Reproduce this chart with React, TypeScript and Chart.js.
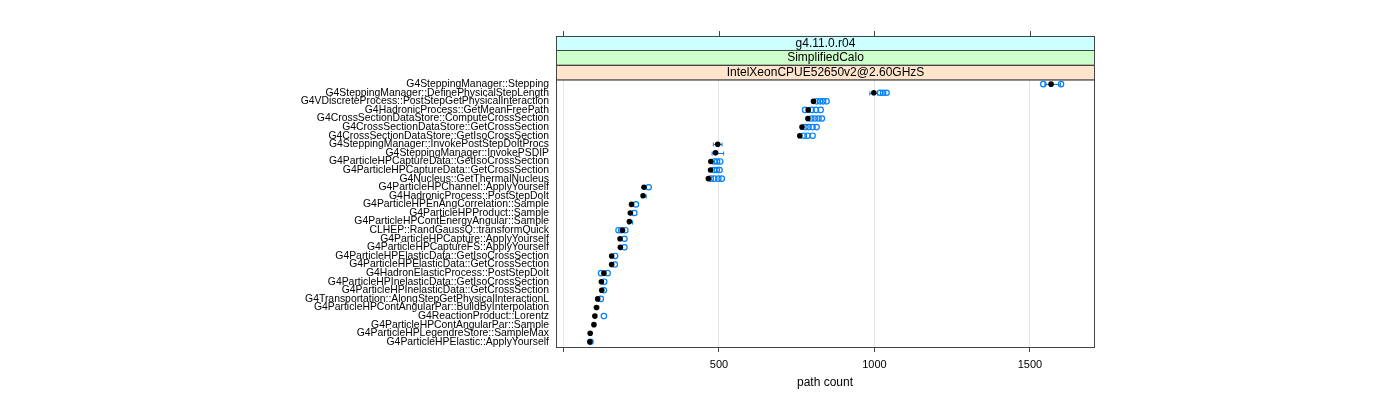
import React, { useEffect, useRef } from 'react';
import { Chart, registerables } from 'chart.js';

Chart.register(...registerables);

const categories = [
  'G4SteppingManager::Stepping',
  'G4SteppingManager::DefinePhysicalStepLength',
  'G4VDiscreteProcess::PostStepGetPhysicalInteraction',
  'G4HadronicProcess::GetMeanFreePath',
  'G4CrossSectionDataStore::ComputeCrossSection',
  'G4CrossSectionDataStore::GetCrossSection',
  'G4CrossSectionDataStore::GetIsoCrossSection',
  'G4SteppingManager::InvokePostStepDoItProcs',
  'G4SteppingManager::InvokePSDIP',
  'G4ParticleHPCaptureData::GetIsoCrossSection',
  'G4ParticleHPCaptureData::GetCrossSection',
  'G4Nucleus::GetThermalNucleus',
  'G4ParticleHPChannel::ApplyYourself',
  'G4HadronicProcess::PostStepDoIt',
  'G4ParticleHPEnAngCorrelation::Sample',
  'G4ParticleHPProduct::Sample',
  'G4ParticleHPContEnergyAngular::Sample',
  'CLHEP::RandGaussQ::transformQuick',
  'G4ParticleHPCapture::ApplyYourself',
  'G4ParticleHPCaptureFS::ApplyYourself',
  'G4ParticleHPElasticData::GetIsoCrossSection',
  'G4ParticleHPElasticData::GetCrossSection',
  'G4HadronElasticProcess::PostStepDoIt',
  'G4ParticleHPInelasticData::GetIsoCrossSection',
  'G4ParticleHPInelasticData::GetCrossSection',
  'G4Transportation::AlongStepGetPhysicalInteractionL',
  'G4ParticleHPContAngularPar::BuildByInterpolation',
  'G4ReactionProduct::Lorentz',
  'G4ParticleHPContAngularPar::Sample',
  'G4ParticleHPLegendreStore::SampleMax',
  'G4ParticleHPElastic::ApplyYourself',
];

// reference run (black filled dots)
const refValues = [
  1568, 998, 804, 787, 786, 767, 760, 496, 489, 474, 473, 466, 259, 256, 219, 215,
  212, 190, 182, 183, 155, 155, 130, 122, 123, 110, 106, 101, 98, 86, 85,
];

// other runs (blue open circles), per category
const runValues: number[][] = [
  [1543, 1600],
  [1018, 1028, 1039],
  [814, 825, 835, 846],
  [777, 798, 812, 827],
  [797, 808, 820, 831],
  [778, 788, 801, 814],
  [773, 785, 801],
  [],
  [],
  [485, 494, 504],
  [484, 493, 502],
  [474, 485, 498, 509],
  [274],
  [],
  [233],
  [228],
  [],
  [177, 186, 199],
  [196],
  [196],
  [166],
  [165],
  [121, 142],
  [131],
  [130],
  [120],
  [],
  [130],
  [],
  [],
  [87],
];

// spread bars (blue), null where none is visible
const errLow: (number | null)[] = [
  1548, 985, 798, 784, 783, 763, 756, 482, 478, null, null, null, null, 252, null, null,
  208, null, null, null, null, null, null, null, null, null, 103, null, null, null, null,
];
const errHigh: (number | null)[] = [
  1598, 1010, 810, 792, 790, 772, 765, 510, 515, null, null, null, null, 266, null, null,
  222, null, null, null, null, null, null, null, null, null, 114, null, null, null, null,
];

const xTicks = [0, 500, 1000, 1500];
const xTickLabels = ['', '500', '1000', '1500'];
const stripLabels = ['g4.11.0.r04', 'SimplifiedCalo', 'IntelXeonCPUE52650v2@2.60GHzS'];
const stripColors = ['#ccffff', '#ccffcc', '#ffe5cc'];

const FONT = '"Liberation Sans", Arial, Helvetica, sans-serif';
const BLUE = '#0080ff';

const latticePlugin = {
  id: 'lattice',
  beforeDatasetsDraw(chart: any) {
    const { ctx } = chart;
    const xs = chart.scales.x;
    const ys = chart.scales.y;
    ctx.save();
    ctx.strokeStyle = BLUE;
    ctx.lineWidth = 1;
    for (let i = 0; i < categories.length; i++) {
      const lo = errLow[i];
      const hi = errHigh[i];
      if (lo == null || hi == null) continue;
      const y = Math.round(ys.getPixelForValue(i)) + 0.5;
      const x1 = xs.getPixelForValue(lo);
      const x2 = xs.getPixelForValue(hi);
      ctx.beginPath();
      ctx.moveTo(x1, y);
      ctx.lineTo(x2, y);
      ctx.moveTo(x1, y - 2);
      ctx.lineTo(x1, y + 2);
      ctx.moveTo(x2, y - 2);
      ctx.lineTo(x2, y + 2);
      ctx.stroke();
    }
    ctx.restore();
  },
  afterDraw(chart: any) {
    const { ctx, chartArea } = chart;
    const xs = chart.scales.x;
    const left = Math.round(chartArea.left) + 0.5;
    const right = Math.round(chartArea.right) + 0.5;
    const top = Math.round(chartArea.top) + 0.5;
    const bottom = Math.round(chartArea.bottom) + 0.5;
    ctx.save();
    // panel border
    ctx.strokeStyle = '#444';
    ctx.lineWidth = 1;
    ctx.strokeRect(left, top, right - left, bottom - top);
    // strips
    const stripH = 14.6;
    const stripTop = top - stripH * stripLabels.length;
    for (let k = 0; k < stripLabels.length; k++) {
      const y0 = stripTop + k * stripH;
      ctx.fillStyle = stripColors[k];
      ctx.fillRect(left, y0, right - left, stripH);
      ctx.strokeStyle = '#444';
      ctx.strokeRect(left, Math.round(y0) + 0.5, right - left, stripH);
      ctx.fillStyle = '#000';
      ctx.font = `12px ${FONT}`;
      ctx.textAlign = 'center';
      ctx.textBaseline = 'middle';
      ctx.fillText(stripLabels[k], (left + right) / 2, y0 + stripH / 2 + 0.5);
    }
    // top tick marks
    ctx.strokeStyle = '#444';
    ctx.beginPath();
    for (const v of xTicks) {
      const x = Math.round(xs.getPixelForValue(v)) + 0.5;
      ctx.moveTo(x, Math.round(stripTop));
      ctx.lineTo(x, Math.round(stripTop) - 5);
    }
    ctx.stroke();
    ctx.restore();
  },
};

export default function App() {
  const ref = useRef<HTMLCanvasElement | null>(null);

  useEffect(() => {
    if (!ref.current) return;
    const blueData: { x: number; y: number }[] = [];
    runValues.forEach((arr, i) => arr.forEach((v) => blueData.push({ x: v, y: i })));
    const blackData = refValues.map((v, i) => ({ x: v, y: i }));

    const chart = new Chart(ref.current, {
      type: 'scatter',
      data: {
        datasets: [
          {
            label: 'reference',
            data: blackData,
            pointStyle: 'circle',
            pointRadius: 2.8,
            pointBackgroundColor: '#000',
            pointBorderColor: '#000',
            pointBorderWidth: 0,
            order: 0,
          },
          {
            label: 'runs',
            data: blueData,
            pointStyle: 'circle',
            pointRadius: 2.7,
            pointBackgroundColor: 'rgba(0,0,0,0)',
            pointBorderColor: BLUE,
            pointBorderWidth: 1.2,
            order: 1,
          },
        ],
      },
      options: {
        animation: false,
        responsive: true,
        maintainAspectRatio: false,
        layout: { padding: { left: 0, right: 306, top: 79, bottom: 0 } },
        plugins: { legend: { display: false }, tooltip: { enabled: false } },
        scales: {
          x: {
            type: 'linear',
            min: -24,
            max: 1706,
            afterBuildTicks: (scale: any) => {
              scale.ticks = xTicks.map((v) => ({ value: v }));
            },
            afterFit: (scale: any) => {
              scale.height = 53;
            },
            ticks: {
              autoSkip: false,
              maxRotation: 0,
              padding: 6,
              color: '#000',
              font: { family: FONT, size: 11 },
              callback: (v: any) => xTickLabels[xTicks.indexOf(Number(v))] ?? '',
            },
            grid: {
              color: '#e6e6e6',
              tickColor: '#444',
              tickLength: 5,
              drawTicks: true,
            },
            border: { display: false },
            title: {
              display: true,
              text: 'path count',
              color: '#000',
              font: { family: FONT, size: 12 },
              padding: { top: 0, bottom: 10 },
            },
          },
          y: {
            type: 'linear',
            reverse: true,
            min: -0.6,
            max: categories.length - 0.4,
            afterBuildTicks: (scale: any) => {
              scale.ticks = categories.map((_, i) => ({ value: i }));
            },
            afterFit: (scale: any) => {
              scale.width = 556;
            },
            ticks: {
              autoSkip: false,
              padding: 7,
              color: '#000',
              font: { family: FONT, size: 10.4 },
              callback: (v: any) => categories[Number(v)] ?? '',
            },
            grid: { display: false, drawTicks: false },
            border: { display: false },
          },
        },
      },
      plugins: [latticePlugin],
    });
    return () => chart.destroy();
  }, []);

  return (
    <div style={{ position: 'absolute', left: 0, top: 0, width: 1400, height: 400, background: '#fff' }}>
      <canvas ref={ref} />
    </div>
  );
}
